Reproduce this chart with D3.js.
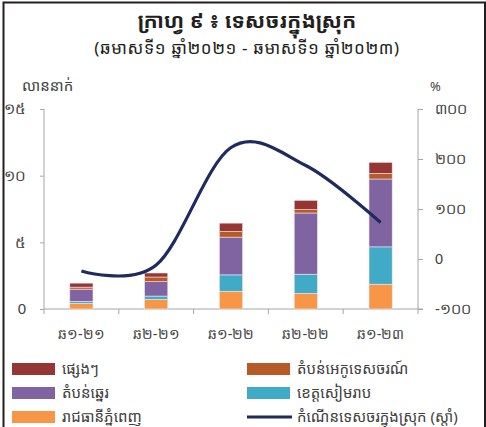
<!DOCTYPE html>
<html>
<head>
<meta charset="utf-8">
<script src="https://cdn.jsdelivr.net/npm/d3@7"></script>
<style>
  html, body { margin: 0; padding: 0; background: #fff; }
  svg { display: block; font-family: "Noto Sans Khmer", "Khmer OS", "Khmer OS System", "Noto Sans", "DejaVu Sans", sans-serif; }
</style>
</head>
<body>
<svg id="chart" width="486" height="427"></svg>
<script>
// ---- data ----
const categories = ["ឆ១-២១", "ឆ២-២១", "ឆ១-២២", "ឆ២-២២", "ឆ១-២៣"];
const phnomPenh = [0.42, 0.72, 1.33, 1.18, 1.86];
const siemReap  = [0.15, 0.25, 1.23, 1.43, 2.80];
const coastal   = [0.92, 1.08, 2.83, 4.59, 5.09];
const ecoTour   = [0.15, 0.35, 0.42, 0.25, 0.42];
const others    = [0.30, 0.30, 0.63, 0.70, 0.83];
const growth    = [-24, -12, 223, 187, 73];
const seriesNames = ["រាជធានីភ្នំពេញ", "ខេត្តសៀមរាប", "តំបន់ឆ្នេរ", "តំបន់អេកូទេសចរណ៍", "ផ្សេងៗ"];
const lineName = "កំណើនទេសចរក្នុងស្រុក (ស្ដាំ)";
const leftTicks = [0, 5, 10, 15];
const leftTickLabels = ["0", "៥", "១០", "១៥"];
const rightTicks = [-100, 0, 100, 200, 300];
const rightTickLabels = ["-១០០", "0", "១០០", "២០០", "៣០០"];
const title = "ក្រាហ្វ ៩ ៖ ទេសចរក្នុងស្រុក";
const subtitle = "(ឆមាសទី១ ឆ្នាំ២០២១ - ឆមាសទី១ ឆ្នាំ២០២៣)";
const leftUnit = "លាននាក់";
const rightUnit = "%";

const colors = ["#f79646", "#41abc7", "#8064a2", "#b65a27", "#963634"];
const lineColor = "#1f2a5e";
const axisColor = "#a6a6a6";

// ---- build ----
const svg = d3.select("#chart");
const X0 = 44, X1 = 418, Y0 = 309, Y1 = 109;

// frame
svg.append("path")
  .attr("d", `M3.5,427 L3.5,2.5 L485,2.5 L485,427`)
  .attr("fill", "none").attr("stroke", "#231f20").attr("stroke-width", 2);

svg.append("text").attr("x", 247).attr("y", 28).attr("text-anchor", "middle")
  .attr("font-size", 21).attr("font-weight", "bold").attr("fill", "#231f20").text(title);
svg.append("text").attr("x", 247).attr("y", 54).attr("text-anchor", "middle")
  .attr("font-size", 17).attr("letter-spacing", 0.6).attr("fill", "#231f20").text(subtitle);

const x = d3.scaleBand().domain(categories).range([X0, X1]).paddingInner(0.69).paddingOuter(0.345);
const yL = d3.scaleLinear().domain([0, 15]).range([Y0, Y1]);
const yR = d3.scaleLinear().domain([-100, 300]).range([Y0, Y1]);

const rows = categories.map((c, i) => ({
  cat: c, s0: phnomPenh[i], s1: siemReap[i], s2: coastal[i], s3: ecoTour[i], s4: others[i]
}));
const stack = d3.stack().keys(["s0", "s1", "s2", "s3", "s4"]);
const stacked = stack(rows);

// axes
const gL = svg.append("g").attr("transform", `translate(${X0},0)`)
  .call(d3.axisLeft(yL).tickValues(leftTicks).tickFormat((d, i) => leftTickLabels[i]).tickSize(4).tickPadding(14));
const gR = svg.append("g").attr("transform", `translate(${X1},0)`)
  .call(d3.axisRight(yR).tickValues(rightTicks).tickFormat((d, i) => rightTickLabels[i]).tickSize(5).tickPadding(12));
const gB = svg.append("g").attr("transform", `translate(0,${Y0})`)
  .call(d3.axisBottom(x).tickSize(0).tickPadding(20));
// bottom tick marks at band boundaries
const bounds = categories.map(c => x(c) - x.step() * x.paddingInner() / 2).concat([X1]);
svg.append("g").selectAll("line").data(bounds).join("line")
  .attr("x1", d => d).attr("x2", d => d).attr("y1", Y0).attr("y2", Y0 + 5)
  .attr("stroke", axisColor);

[gL, gR, gB].forEach(g => {
  g.selectAll("path.domain").attr("stroke", axisColor);
  g.selectAll(".tick line").attr("stroke", axisColor);
  g.selectAll("text").attr("fill", "#404040").attr("font-family", null).attr("font-size", 14);
});
gL.selectAll("text").attr("font-size", 15);
gR.selectAll("text").attr("text-anchor", "start").attr("font-size", 14.5);
gR.selectAll("path.domain").attr("d", `M0,${Y0}V${Y1}`);
gL.selectAll("path.domain").attr("d", `M0,${Y0}V${Y1}`);
gB.selectAll("path.domain").attr("d", `M${X0},0H${X1 + 5}`);

// bars
svg.append("g").selectAll("g").data(stacked).join("g")
  .attr("fill", (d, i) => colors[i])
  .selectAll("rect").data(d => d).join("rect")
  .attr("x", d => x(d.data.cat))
  .attr("width", x.bandwidth())
  .attr("y", d => yL(d[1]))
  .attr("height", d => yL(d[0]) - yL(d[1]))
  .attr("stroke", "#f3e3ea").attr("stroke-width", 0.6);

// line
const line = d3.line()
  .x((d, i) => x(categories[i]) + x.bandwidth() / 2)
  .y(d => yR(d))
  .curve(d3.curveCardinal.tension(0));
svg.append("path").datum(growth).attr("d", line)
  .attr("fill", "none").attr("stroke", lineColor).attr("stroke-width", 3.2);

// unit labels
svg.append("text").attr("x", 22).attr("y", 91).attr("font-size", 15).attr("fill", "#404040").text(leftUnit);
svg.append("text").attr("x", 430).attr("y", 91).attr("font-size", 13).attr("fill", "#404040").text(rightUnit);

// legend
const legendItems = [
  { name: seriesNames[4], color: colors[4], col: 0, row: 0, type: "rect" },
  { name: seriesNames[3], color: colors[3], col: 1, row: 0, type: "rect" },
  { name: seriesNames[2], color: colors[2], col: 0, row: 1, type: "rect" },
  { name: seriesNames[1], color: colors[1], col: 1, row: 1, type: "rect" },
  { name: seriesNames[0], color: colors[0], col: 0, row: 2, type: "rect" },
  { name: lineName, color: lineColor, col: 1, row: 2, type: "line" }
];
const lg = svg.append("g").selectAll("g").data(legendItems).join("g")
  .attr("transform", d => `translate(${d.col === 0 ? 12 : 247},${363 + d.row * 24})`);
lg.filter(d => d.type === "rect").append("rect")
  .attr("width", 43).attr("height", 12).attr("fill", d => d.color);
lg.filter(d => d.type === "line").append("line")
  .attr("x1", 0).attr("x2", 45).attr("y1", 6).attr("y2", 6)
  .attr("stroke", d => d.color).attr("stroke-width", 3);
lg.append("text").attr("x", 50).attr("y", 11).attr("font-size", 15).attr("fill", "#404040")
  .text(d => d.name);
</script>
</body>
</html>
